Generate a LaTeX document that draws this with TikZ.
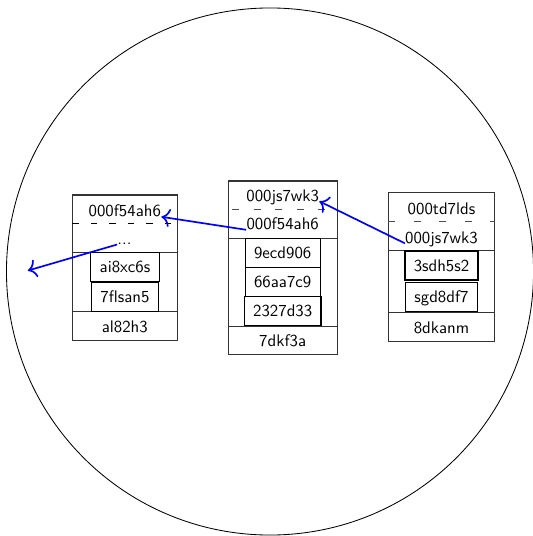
\documentclass[tikz,border=0pt]{standalone}
\usetikzlibrary{arrows.meta}
\begin{document}
\begin{tikzpicture}[x=0.595pt,y=-0.595pt,font=\sffamily,
  frame/.style={draw=black!80,line width=0.6pt},
  label/.style={inner sep=0pt,text height=6.9pt,text depth=0pt},
  cell/.style={draw=black,line width=0.8pt,inner xsep=5.3pt,inner ysep=0pt,
               text height=6.9pt,text depth=0pt,minimum height=17.3pt},
  link/.style={draw=blue,line width=1pt,-{To[scale=1.35]}}]
\useasboundingbox (0,0) rectangle (533,536);

% enclosing circle
\draw[line width=0.5pt] (270,271.5) circle[radius=156.8pt];

% left stack
\draw[frame] (72.3,195) rectangle (177.3,340);
\draw[frame] (72.3,252.5) -- (177.3,252.5);
\draw[frame] (72.3,311.3) -- (177.3,311.3);
\draw[black,line width=0.6pt,dash pattern=on 3.87pt off 7.14pt]
  (72.3,223.5) -- (177.3,223.5);
\node[label] (l1) at (124.8,211) {000f54ah6};
\node[label,anchor=base] (l2) at (124.5,244.5) {...};
\node[cell] (l3) at (125,267) {ai8xc6s};
\node[cell] (l4) at (125,297) {7flsan5};
\node[label] (l5) at (124.8,327) {al82h3};

% middle stack
\draw[frame] (228.2,181) rectangle (337.2,354.5);
\draw[frame] (228.2,238.3) -- (337.2,238.3);
\draw[frame] (228.2,326) -- (337.2,326);
\draw[black!70,line width=0.6pt,dash pattern=on 4.17pt off 8.63pt,dash phase=10.4pt]
  (228.2,209.5) -- (337.2,209.5);
\node[label] (m1) at (282.7,195.5) {000js7wk3};
\node[label] (m2) at (282.7,224) {000f54ah6};
\node[cell] (m3) at (282.7,253) {9ecd906};
\node[cell] (m4) at (282.7,282) {66aa7c9};
\node[cell] (m5) at (282.7,311) {2327d33};
\node[label] (m6) at (282.7,341) {7dkf3a};

% right stack
\draw[frame] (388.3,192.4) rectangle (494.7,341);
\draw[frame] (388.3,250.5) -- (494.7,250.5);
\draw[frame] (388.3,312.5) -- (494.7,312.5);
\draw[black!70,line width=0.6pt,dash pattern=on 4.17pt off 11pt]
  (388.3,221.3) -- (494.7,221.3);
\node[label] (r1) at (441.5,208.5) {000td7lds};
\node[label] (r2) at (441.5,237.5) {000js7wk3};
\node[cell] (r3) at (441.5,265.5) {3sdh5s2};
\node[cell] (r4) at (441.5,297) {sgd8df7};
\node[label] (r5) at (441.5,327.5) {8dkanm};

% links between stacks
\coordinate (out) at (27.8,270.6);
\draw[link] (r2.base west) -- (m1.base east);
\draw[link] (m2.base west) -- (l1.base east);
\draw[link] (l2.base west) -- (out);
\end{tikzpicture}
\end{document}
